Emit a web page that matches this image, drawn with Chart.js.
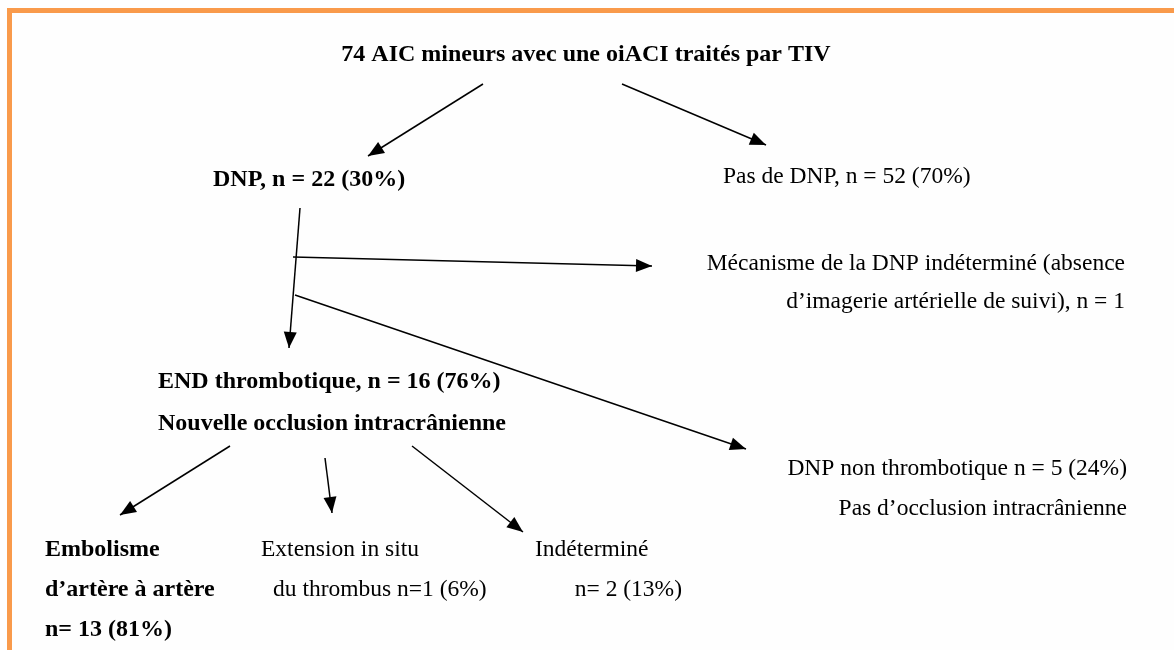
<!DOCTYPE html>
<html><head><meta charset="utf-8">
<script src="https://cdn.jsdelivr.net/npm/chart.js@4"></script>
<style>html,body{margin:0;padding:0;background:#fefefe;overflow:hidden}canvas{display:block}</style>
</head><body>
<canvas id="c" width="1174" height="650"></canvas>
<script>
// Node texts of the flow chart
const nodeTexts = [
  "74 AIC mineurs avec une oiACI traités par TIV",
  "DNP, n = 22 (30%)",
  "Pas de DNP, n = 52 (70%)",
  "Mécanisme de la DNP indéterminé (absence",
  "d\u2019imagerie artérielle de suivi), n = 1",
  "END thrombotique, n = 16 (76%)",
  "Nouvelle occlusion intracrânienne",
  "DNP non thrombotique n = 5 (24%)",
  "Pas d\u2019occlusion intracrânienne",
  "Embolisme",
  "d\u2019artère à artère",
  "n= 13 (81%)",
  "Extension in situ",
  "du thrombus n=1 (6%)",
  "Indéterminé",
  "n= 2 (13%)"
];
// anchor of each text in diagram units (x, y)
const nodeX = [586, 213, 723, 1125, 1125, 158, 158, 1127, 1127, 45, 45, 45, 261, 273, 535, 682];
const nodeY = [55, 180, 177, 264, 302, 382, 424, 469, 509, 550, 590, 630, 550, 590, 550, 590];
const nodeAlign = ["center","left","left","right","right","left","left","right","right","left","left","left","left","left","left","right"];
const nodeBold = [true,true,false,false,false,true,true,false,false,true,true,true,false,false,false,false];

// arrows: start and tip points in diagram units
const arrowStartX = [483, 622, 300, 293, 295, 230, 325, 412];
const arrowStartY = [84, 84, 208, 257, 295, 446, 458, 446];
const arrowTipX   = [368, 766, 289, 652, 746, 120, 332, 523];
const arrowTipY   = [156, 145, 348, 266, 449, 515, 513, 532];

const FONT = '"Liberation Serif", "Times New Roman", serif';

const datasets = arrowStartX.map((sx, i) => ({
  type: 'line',
  data: [{x: sx, y: arrowStartY[i]}, {x: arrowTipX[i], y: arrowTipY[i]}],
  borderColor: '#000',
  borderWidth: 1.5,
  pointRadius: 0,
  fill: false,
  tension: 0
}));

const framePlugin = {
  id: 'frame',
  beforeDraw(chart) {
    const ctx = chart.ctx;
    ctx.save();
    ctx.fillStyle = '#fefefe';
    ctx.fillRect(0, 0, chart.width, chart.height);
    ctx.fillStyle = '#F99A4B';
    ctx.fillRect(7, 8, chart.width - 7, 5);
    ctx.fillRect(7, 8, 5, chart.height - 8);
    ctx.restore();
  }
};

const annotatePlugin = {
  id: 'annotate',
  afterDatasetsDraw(chart) {
    const ctx = chart.ctx;
    const xs = chart.scales.x, ys = chart.scales.y;
    ctx.save();
    // arrow heads
    ctx.fillStyle = '#000';
    arrowTipX.forEach((tx, i) => {
      const px = xs.getPixelForValue(tx), py = ys.getPixelForValue(arrowTipY[i]);
      const sx = xs.getPixelForValue(arrowStartX[i]), sy = ys.getPixelForValue(arrowStartY[i]);
      const a = Math.atan2(py - sy, px - sx);
      const L = 16, W = 6.5;
      ctx.beginPath();
      ctx.moveTo(px, py);
      ctx.lineTo(px - L*Math.cos(a) + W*Math.sin(a), py - L*Math.sin(a) - W*Math.cos(a));
      ctx.lineTo(px - L*Math.cos(a) - W*Math.sin(a), py - L*Math.sin(a) + W*Math.cos(a));
      ctx.closePath();
      ctx.fill();
    });
    // texts
    ctx.fillStyle = '#000';
    ctx.textBaseline = 'middle';
    nodeTexts.forEach((t, i) => {
      ctx.font = nodeBold[i] ? ('bold 24px ' + FONT) : ('23.5px ' + FONT);
      ctx.textAlign = nodeAlign[i];
      ctx.fillText(t, xs.getPixelForValue(nodeX[i]), ys.getPixelForValue(nodeY[i]));
    });
    ctx.restore();
  }
};

new Chart(document.getElementById('c'), {
  type: 'scatter',
  data: { datasets },
  options: {
    responsive: false,
    animation: false,
    layout: { padding: 0 },
    plugins: { legend: { display: false }, tooltip: { enabled: false } },
    scales: {
      x: { type: 'linear', min: 0, max: 1174, display: false },
      y: { type: 'linear', min: 0, max: 650, reverse: true, display: false }
    }
  },
  plugins: [framePlugin, annotatePlugin]
});
</script>
</body></html>
